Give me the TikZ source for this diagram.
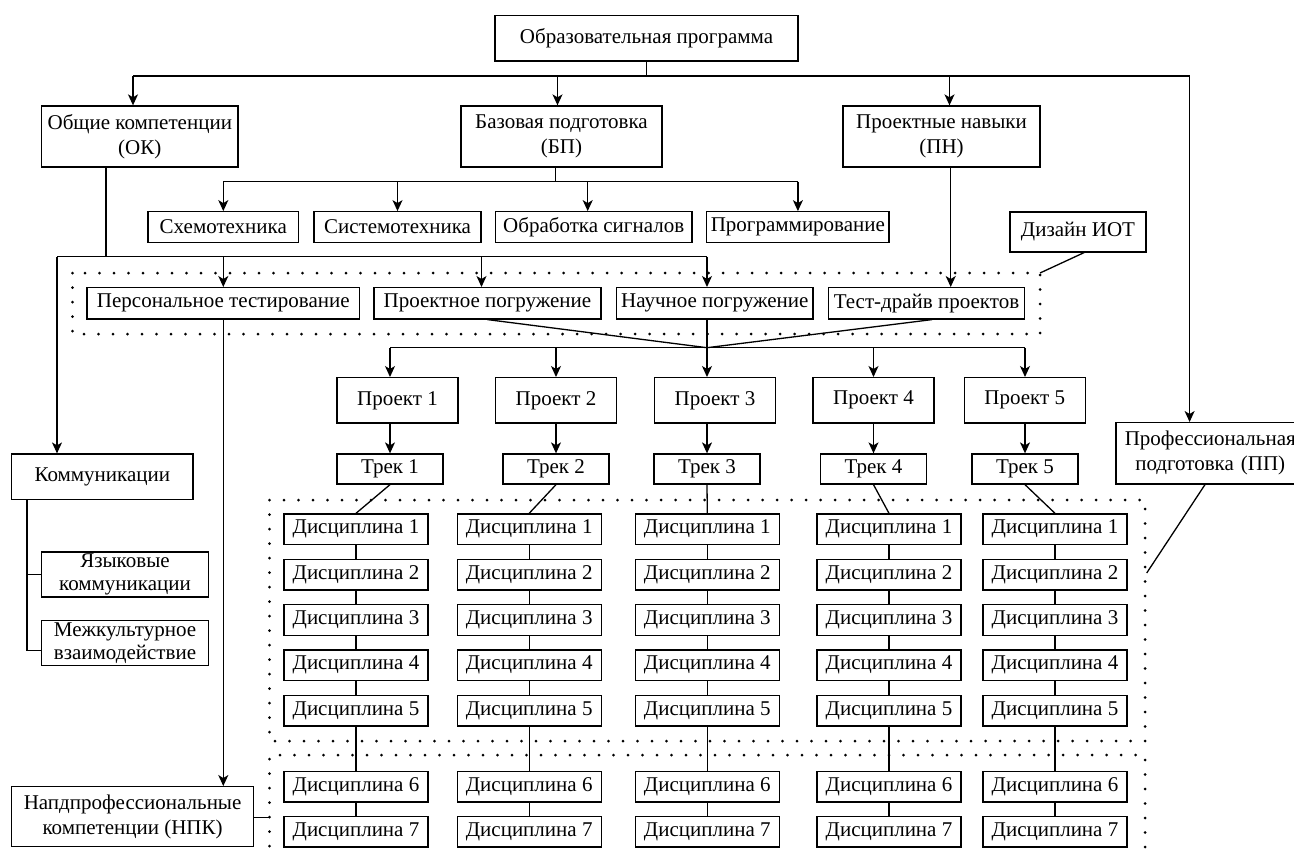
\documentclass[tikz,border=0pt]{standalone}
\usepackage{fontspec}
\setmainfont{Liberation Serif}
\usetikzlibrary{arrows.meta,calc}
\begin{document}
\begin{tikzpicture}[x=1pt,y=-1pt,
  box/.style={draw, line width=1.3pt, inner sep=0pt, align=center, font=\fontsize{21}{25}\selectfont},
  disc/.style={box, minimum width=144pt, minimum height=30.5pt},
  proj/.style={box, minimum width=121pt, minimum height=45.3pt},
  trk/.style={box, minimum width=106pt, minimum height=30pt},
  row2/.style={box, minimum height=30.5pt},
  row3/.style={box, minimum height=31.3pt},
  ln/.style={line width=1.3pt},
  arr/.style={line width=1.3pt, -{Stealth[length=11pt,width=10pt,inset=3pt]}},
  dots/.style={line width=3pt, line cap=round, dash pattern=on 0pt off 14.5pt}]
\useasboundingbox (0,0) rectangle (1294,857);
\fill[white] (0,0) rectangle (1294,857);

% top level
\node[box, minimum width=303pt, minimum height=45.3pt] (top) at (646.5,38.3) {Образовательная программа};
\node[box, minimum width=196.5pt, minimum height=61pt] (ok) at (139.8,136.5) {Общие компетенции\\(ОК)};
\node[box, minimum width=201pt, minimum height=61pt] (bp) at (561.5,136.5) {Базовая подготовка\\(БП)};
\node[box, minimum width=197pt, minimum height=61pt] (pn) at (941.5,136.5) {Проектные навыки\\(ПН)};
\node[box, anchor=west, text width=180pt, inner xsep=4.2pt, minimum height=61.3pt] (pp) at (1115.4,453.3) {Профессиональная\\подготовка (ПП)};

% second row
\node[row2, minimum width=150.5pt] (sx) at (223.3,227) {Схемотехника};
\node[row2, minimum width=167pt] (sys) at (397.5,227) {Системотехника};
\node[row2, minimum width=196.6pt] (obr) at (593.7,227) {Обработка сигналов};
\node[row2, minimum width=182.3pt] (prog) at (797.9,227) {Программирование};
\node[box, minimum width=136pt, minimum height=40pt] (iot) at (1078,232) {Дизайн ИОТ};

% third row
\node[row3, minimum width=272.5pt] (pt) at (223.3,303.3) {Персональное тестирование};
\node[row3, minimum width=227pt] (pg) at (487.5,303.3) {Проектное погружение};
\node[row3, minimum width=196.5pt] (ng) at (714.8,303.3) {Научное погружение};
\node[row3, minimum width=196pt] (td) at (926.5,303.3) {Тест-драйв проектов};

% projects and tracks
\foreach \i/\px/\tx in {1/397.5/390,2/556/556,3/715/707,4/873.5/873.5,5/1024.7/1025}{
  \node[proj] (p\i) at (\px,400.3) {Проект \i};
  \node[trk] (t\i) at (\tx,469) {Трек \i};
}

% left column
\node[box, minimum width=181.4pt, minimum height=45.3pt] (kom) at (102.3,476.7) {Коммуникации};
\node[box, minimum width=167pt, minimum height=45pt, font=\fontsize{21}{23}\selectfont] (yaz) at (125,574.5) {Языковые\\коммуникации};
\node[box, minimum width=167pt, minimum height=45pt, font=\fontsize{21}{23}\selectfont] (mk) at (125,643.2) {Межкультурное\\взаимодействие};
\node[box, minimum width=242pt, minimum height=60pt] (npk) at (132.6,816.7) {Напдпрофессиональные\\компетенции (НПК)};

% disciplines
\foreach \c/\x in {1/356,2/529.2,3/707.3,4/889,5/1055}{
  \foreach \r/\y in {1/529.2,2/574.7,3/620,4/665.3,5/710.8,6/786.7,7/831.7}{
    \node[disc] (d\c\r) at (\x,\y) {Дисциплина \r};
  }
}
\foreach \c in {1,...,5}{
  \foreach \r [evaluate=\r as \n using int(\r+1)] in {1,...,6}{
    \draw[ln] (d\c\r.south) -- (d\c\n.north);
  }
}

% dotted frames
\draw[dots] (72.5,273) rectangle (1040,334);
\draw[dots] (269.5,500) rectangle (1145,741);
\draw[dots] (269.5,875) -- (269.5,755) -- (1145,755) -- (1145,875);

% coordinates
\coordinate (tj) at (646.5,76);
\coordinate (bL) at (133,76);
\coordinate (bR) at (1189.6,76);
\coordinate (bpj) at (555.6,181.7);
\coordinate (okb) at (106,256.7);
\coordinate (kL) at (57,256.7);
\coordinate (kR) at (707,256.7);
\coordinate (pnx) at (950.7,0);
\coordinate (J) at (707,347.7);
\coordinate (kb) at (27,0);
\coordinate (r1c) at (1040,273);
\coordinate (r2r) at (1146.7,573);
\coordinate (r3L) at (269.5,817.3);
\coordinate (ppx) at (1205,0);

% top connectors
\draw[ln] (top.south) -- (tj);
\draw[ln] (bL) -- (bR);
\draw[arr] (bL) -- (bL |- ok.north);
\draw[arr] ([xshift=-4pt]bp.north |- tj) -- ([xshift=-4pt]bp.north);
\draw[arr] ([xshift=8pt]pn.north |- tj) -- ([xshift=8pt]pn.north);
\draw[arr] (bR) -- (bR |- pp.north);

% BP connectors
\draw[ln] (bp.south -| bpj) -- (bpj);
\draw[ln] (sx.north |- bpj) -- (prog.north |- bpj);
\draw[arr] (sx.north |- bpj) -- (sx.north);
\draw[arr] (sys.north |- bpj) -- (sys.north);
\draw[arr] ([xshift=-6pt]obr.north |- bpj) -- ([xshift=-6pt]obr.north);
\draw[arr] (prog.north |- bpj) -- (prog.north);

% OK connectors
\draw[ln] (ok.south -| okb) -- (okb);
\draw[ln] (kL) -- (kR);
\draw[arr] (kL) -- (kL |- kom.north);
\draw[arr] (pt.north |- kL) -- (pt.north);
\draw[arr] ([xshift=-6pt]pg.north |- kL) -- ([xshift=-6pt]pg.north);
\draw[arr] (kR) -- (kR |- ng.north);

% PN to test-drive
\draw[arr] (pn.south -| pnx) -- (td.north -| pnx);

% to projects
\draw[ln] (pg.south) -- (J);
\draw[ln] (ng.south -| J) -- (J);
\draw[ln] ([xshift=5.5pt]td.south) -- (J);
\draw[ln] (t1.north |- J) -- (t5.north |- J);
\foreach \i in {1,...,5}{
  \draw[arr] (t\i.north |- J) -- (p\i.north -| t\i.north);
  \draw[arr] (p\i.south -| t\i.north) -- (t\i.north);
  \draw[ln] (t\i.south) -- (d\i1.north);
}

% left side connectors
\draw[arr] (pt.south) -- (pt.south |- npk.north);
\draw[ln] (kom.south -| kb) |- (yaz.west);
\draw[ln] (kom.south -| kb) |- ([yshift=-7.5pt]mk.west);
\draw[ln] (npk.east |- r3L) -- (r3L);

% annotation connectors
\draw[ln] ([xshift=6pt]iot.south) -- (r1c);
\draw[ln] (pp.south -| ppx) -- (r2r);
\end{tikzpicture}
\end{document}
